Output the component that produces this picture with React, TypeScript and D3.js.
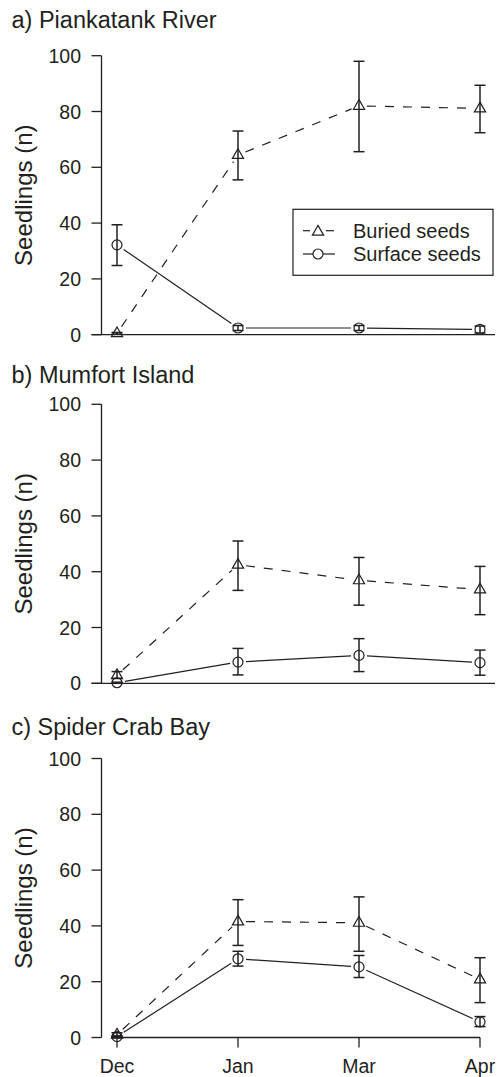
import React from "react";
import * as d3 from "d3";

// ---- data ----
const months = ["Dec", "Jan", "Mar", "Apr"];
const yTicks = [0, 20, 40, 60, 80, 100];
const panelTitles = ["a) Piankatank River", "b) Mumfort Island", "c) Spider Crab Bay"];
const seriesNames = ["Buried seeds", "Surface seeds"];

// Panel a – Piankatank River
const buriedA = [0.5, 64.4, 82.0, 81.1];
const buriedALo = [0.2, 55.5, 65.6, 72.4];
const buriedAHi = [0.8, 73.0, 98.0, 89.4];
const surfaceA = [32.2, 2.4, 2.4, 1.9];
const surfaceALo = [24.8, 1.5, 1.5, 0.6];
const surfaceAHi = [39.4, 3.3, 3.3, 3.1];

// Panel b – Mumfort Island
const buriedB = [2.9, 42.5, 36.9, 33.6];
const buriedBLo = [1.8, 33.3, 28.0, 24.6];
const buriedBHi = [4.2, 51.0, 45.1, 41.9];
const surfaceB = [0.2, 7.6, 10.0, 7.4];
const surfaceBLo = [0.0, 3.0, 4.2, 2.9];
const surfaceBHi = [0.4, 12.5, 16.0, 11.9];

// Panel c – Spider Crab Bay
const buriedC = [1.0, 41.6, 41.1, 20.8];
const buriedCLo = [0.3, 33.0, 30.9, 12.5];
const buriedCHi = [1.7, 49.4, 50.4, 28.6];
const surfaceC = [0.3, 28.2, 25.3, 5.6];
const surfaceCLo = [0.0, 25.6, 21.5, 3.9];
const surfaceCHi = [0.6, 30.9, 29.4, 7.5];

const panels = [
  { title: panelTitles[0], buried: [buriedA, buriedALo, buriedAHi], surface: [surfaceA, surfaceALo, surfaceAHi] },
  { title: panelTitles[1], buried: [buriedB, buriedBLo, buriedBHi], surface: [surfaceB, surfaceBLo, surfaceBHi] },
  { title: panelTitles[2], buried: [buriedC, buriedCLo, buriedCHi], surface: [surfaceC, surfaceCLo, surfaceCHi] },
];

// ---- layout ----
const W = 500;
const H = 1077;
const INK = "#231f20";
const FONT = "'Liberation Sans', Arial, Helvetica, sans-serif";
const panelTops = [55.7, 404.3, 758.5];
const titleBaselines = [28.3, 382.7, 735];
const plotH = 279;
const axisX = 101.5;
const xScale = d3.scalePoint<string>().domain(months).range([117, 480]);

function gapSegments(pts: [number, number][], gap: number) {
  const segs: [number, number, number, number][] = [];
  for (let i = 0; i < pts.length - 1; i++) {
    const [x0, y0] = pts[i];
    const [x1, y1] = pts[i + 1];
    const dx = x1 - x0, dy = y1 - y0;
    const len = Math.hypot(dx, dy);
    if (len <= gap * 2) continue;
    const ux = dx / len, uy = dy / len;
    segs.push([x0 + ux * gap, y0 + uy * gap, x1 - ux * gap, y1 - uy * gap]);
  }
  return segs;
}

function Triangle({ x, y }: { x: number; y: number }) {
  const p = d3.path();
  p.moveTo(x, y - 6.3);
  p.lineTo(x + 5.6, y + 3.4);
  p.lineTo(x - 5.6, y + 3.4);
  p.closePath();
  return <path d={p.toString()} fill="none" stroke={INK} strokeWidth={1.2} />;
}

function Circle({ x, y }: { x: number; y: number }) {
  return <circle cx={x} cy={y} r={5} fill="none" stroke={INK} strokeWidth={1.2} />;
}

function Series({ vals, lo, hi, y, kind }: { vals: number[]; lo: number[]; hi: number[]; y: d3.ScaleLinear<number, number>; kind: "tri" | "circ" }) {
  const pts: [number, number][] = vals.map((v, i) => [xScale(months[i]) as number, y(v)]);
  const segs = gapSegments(pts, 8);
  return (
    <g>
      {segs.map((s, i) => (
        <line key={"s" + i} x1={s[0]} y1={s[1]} x2={s[2]} y2={s[3]} stroke={INK} strokeWidth={1.2}
          strokeDasharray={kind === "tri" ? "9,9" : undefined} />
      ))}
      {vals.map((v, i) => {
        const x = xScale(months[i]) as number;
        return (
          <g key={"e" + i} stroke={INK} strokeWidth={1.5}>
            <line x1={x} x2={x} y1={y(lo[i])} y2={y(hi[i])} />
            <line x1={x - 5.5} x2={x + 5.5} y1={y(lo[i])} y2={y(lo[i])} />
            <line x1={x - 5.5} x2={x + 5.5} y1={y(hi[i])} y2={y(hi[i])} />
          </g>
        );
      })}
      {pts.map(([px, py], i) => (kind === "tri" ? <Triangle key={"m" + i} x={px} y={py} /> : <Circle key={"m" + i} x={px} y={py} />))}
    </g>
  );
}

function Panel({ idx }: { idx: number }) {
  const p = panels[idx];
  const top = panelTops[idx];
  const y = d3.scaleLinear().domain([0, 100]).range([top + plotH, top]);
  const isLast = idx === panels.length - 1;
  const y0 = y(0);
  return (
    <g>
      <text x={11.5} y={titleBaselines[idx]} fontSize={23.5} fill={INK} fontFamily={FONT}>{p.title}</text>
      <text transform={`translate(32,${(y(0) + y(100)) / 2}) rotate(-90)`} textAnchor="middle" fontSize={24}
        fill={INK} fontFamily={FONT}>Seedlings (n)</text>
      {/* y axis */}
      <line x1={axisX} x2={axisX} y1={y(0)} y2={y(100)} stroke={INK} strokeWidth={1.3} />
      {yTicks.map((t) => (
        <g key={t}>
          <line x1={axisX - 10} x2={axisX} y1={y(t)} y2={y(t)} stroke={INK} strokeWidth={1.3} />
          <text x={81} y={y(t)} dy="0.36em" textAnchor="end" fontSize={19.5} fill={INK} fontFamily={FONT}>{t}</text>
        </g>
      ))}
      {/* x axis */}
      {isLast ? (
        <g>
          <line x1={xScale(months[0])} x2={xScale(months[months.length - 1])} y1={y0} y2={y0} stroke={INK} strokeWidth={1.3} />
          {months.map((m) => (
            <g key={m}>
              <line x1={xScale(m)} x2={xScale(m)} y1={y0} y2={y0 + 10} stroke={INK} strokeWidth={1.3} />
              <text x={xScale(m)} y={1072.5} textAnchor="middle" fontSize={19.5} fill={INK} fontFamily={FONT}>{m}</text>
            </g>
          ))}
        </g>
      ) : (
        <line x1={axisX - 10} x2={495} y1={y0} y2={y0} stroke={INK} strokeWidth={1.3} />
      )}
      <Series vals={p.surface[0]} lo={p.surface[1]} hi={p.surface[2]} y={y} kind="circ" />
      <Series vals={p.buried[0]} lo={p.buried[1]} hi={p.buried[2]} y={y} kind="tri" />
    </g>
  );
}

function Legend() {
  const rows = [230.7, 254];
  return (
    <g>
      <rect x={293} y={209.3} width={200} height={66} fill="white" stroke={INK} strokeWidth={1.2} />
      <line x1={303} x2={310} y1={rows[0]} y2={rows[0]} stroke={INK} strokeWidth={1.2} />
      <line x1={326} x2={334} y1={rows[0]} y2={rows[0]} stroke={INK} strokeWidth={1.2} />
      <Triangle x={318} y={rows[0] + 1} />
      <line x1={303} x2={313} y1={rows[1]} y2={rows[1]} stroke={INK} strokeWidth={1.2} />
      <line x1={323} x2={335} y1={rows[1]} y2={rows[1]} stroke={INK} strokeWidth={1.2} />
      <Circle x={318} y={rows[1]} />
      {seriesNames.map((n, i) => (
        <text key={n} x={353} y={rows[i]} dy="0.36em" fontSize={20} fill={INK} fontFamily={FONT}>{n}</text>
      ))}
    </g>
  );
}

export default function App() {
  return (
    <div style={{ position: "absolute", left: 0, top: 0 }}>
      <svg width={W} height={H} viewBox={`0 0 ${W} ${H}`} style={{ display: "block", background: "white" }}>
        {panels.map((_, i) => (
          <Panel key={i} idx={i} />
        ))}
        <Legend />
      </svg>
    </div>
  );
}
